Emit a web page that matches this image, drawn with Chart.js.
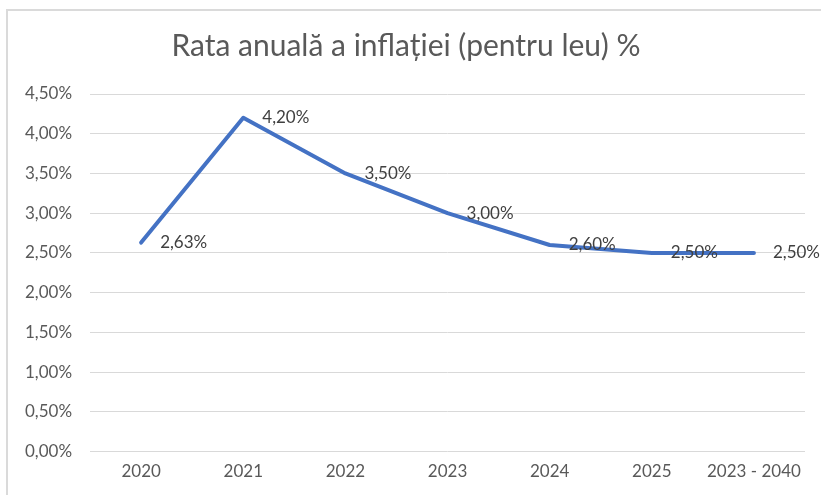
<!DOCTYPE html>
<html>
<head>
<meta charset="utf-8">
<script src="https://cdn.jsdelivr.net/npm/chart.js@4"></script>
<style>
  html, body { margin: 0; padding: 0; background: #fff; }
  #wrap { position: relative; width: 821px; height: 495px; }
  #frame { position: absolute; left: 6px; top: 9px; right: 0; bottom: 0;
           border-top: 2px solid #dadada; border-left: 2px solid #dadada; }
  canvas { position: absolute; left: 0; top: 0; }
</style>
</head>
<body>
<div id="wrap">
  <div id="frame"></div>
  <canvas id="chart" width="821" height="495"></canvas>
</div>
<script>
const categories = ['2020', '2021', '2022', '2023', '2024', '2025', '2023 - 2040'];
const inflation = [2.63, 4.20, 3.50, 3.00, 2.60, 2.50, 2.50];
const yTicks = [0, 0.5, 1, 1.5, 2, 2.5, 3, 3.5, 4, 4.5];

function pct(v) {
    return v.toFixed(2).replace('.', ',') + '%';
}

// simple value labels to the right of each point
const valueLabels = {
    id: 'valueLabels',
    afterDatasetsDraw(chart) {
        const ctx = chart.ctx;
        const meta = chart.getDatasetMeta(0);
        ctx.save();
        ctx.font = '17px Lato, "Open Sans", sans-serif';
        ctx.fillStyle = '#404040';
        ctx.textAlign = 'left';
        ctx.textBaseline = 'middle';
        meta.data.forEach(function (pt, i) {
            ctx.fillText(pct(inflation[i]), pt.x + 19, pt.y);
        });
        ctx.restore();
    }
};

const ctx = document.getElementById('chart').getContext('2d');
new Chart(ctx, {
    type: 'line',
    data: {
        labels: categories,
        datasets: [{
            label: 'Rata anuală',
            data: inflation,
            borderColor: '#4472C4',
            borderWidth: 4,
            pointRadius: 0,
            tension: 0,
            borderJoinStyle: 'round',
            borderCapStyle: 'round'
        }]
    },
    options: {
        responsive: false,
        animation: false,
        layout: { padding: { left: 7, right: 16, top: 24, bottom: 3 } },
        plugins: {
            legend: { display: false },
            tooltip: { enabled: false },
            title: {
                display: true,
                text: 'Rata anuală a inflației (pentru leu) %',
                color: '#595959',
                font: { family: 'Lato, "Open Sans", sans-serif', size: 30, weight: 'normal' },
                padding: { top: 4, bottom: 30 }
            }
        },
        scales: {
            x: {
                offset: true,
                grid: { display: false, drawTicks: false },
                border: { display: false },
                ticks: {
                    color: '#595959',
                    font: { family: 'Lato, "Open Sans", sans-serif', size: 17 },
                    padding: 10,
                    maxRotation: 0
                }
            },
            y: {
                min: 0,
                max: 4.5,
                afterBuildTicks(scale) {
                    scale.ticks = yTicks.map(v => ({ value: v }));
                },
                grid: { color: '#d9d9d9', lineWidth: 1, drawTicks: false },
                border: { display: false },
                ticks: {
                    color: '#595959',
                    font: { family: 'Lato, "Open Sans", sans-serif', size: 17 },
                    padding: 18,
                    callback: v => pct(v)
                }
            }
        }
    },
    plugins: [valueLabels]
});
</script>
</body>
</html>
